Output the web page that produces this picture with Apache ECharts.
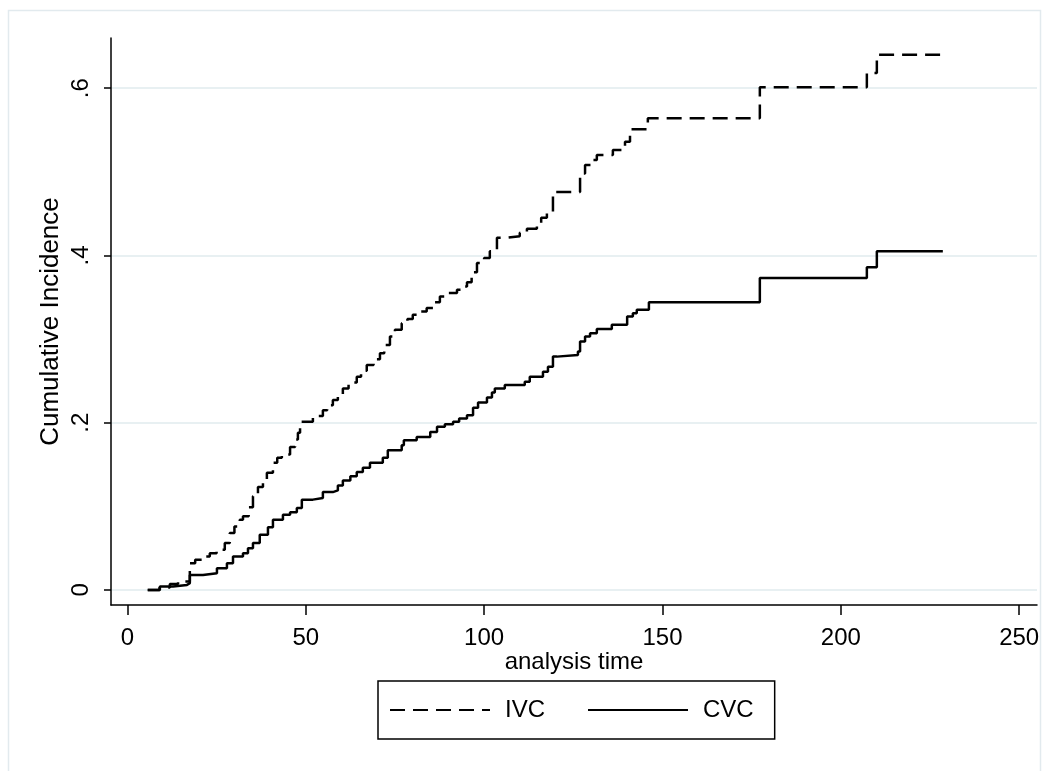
<!DOCTYPE html>
<html>
<head>
<meta charset="utf-8">
<script src="https://cdn.jsdelivr.net/npm/echarts@6/dist/echarts.min.js"></script>
<style>
    html, body { margin: 0; padding: 0; background: #fff; }
    #main { width: 1050px; height: 771px; }
</style>
</head>
<body>
<div id="main"></div>
<script>
// cumulative incidence
var ivcTime = [5.7, 9.0, 11.9, 14.2, 17.5, 19.0, 21.0, 23.1, 25.0, 27.3, 28.7, 30.0, 31.5, 32.4, 34.0, 35.2, 36.6, 38.0, 39.1, 40.8,
    42.0, 43.3, 45.6, 47.0, 47.8, 48.4, 52.0, 54.8, 56.0, 57.6, 59.0, 60.4, 62.0, 64.3, 65.5, 67.1, 69.0, 70.8, 72.0, 73.6,
    75.0, 76.9, 78.5, 80.0, 82.0, 83.9, 86.0, 87.6, 90.0, 92.4, 94.0, 95.2, 96.5, 98.0, 100.0, 101.6, 103.6, 106.0, 110.0, 112.0,
    114.8, 116.0, 117.6, 119.3, 126.9, 128.3, 130.0, 131.6, 136.1, 139.5, 140.9, 145.9, 177.3, 207.3, 210.1, 228.6];
var ivcInc = [0, .003, .007, .010, .032, .036, .040, .044, .048, .056, .068, .076, .084, .088, .099, .112, .123, .128, .140, .152,
    .158, .162, .171, .180, .188, .201, .208, .215, .221, .227, .234, .241, .248, .255, .262, .269, .276, .283, .293, .303,
    .311, .319, .324, .329, .333, .337, .344, .351, .355, .359, .363, .368, .380, .391, .397, .405, .421, .423, .427, .432,
    .438, .445, .452, .476, .498, .508, .514, .520, .526, .536, .551, .564, .601, .618, .640, .640];

var cvcTime = [5.7, 9.1, 12.8, 16.7, 17.5, 21.2, 25.1, 27.9, 29.6, 32.4, 33.8, 35.2, 37.1, 39.4, 40.8, 43.6, 45.6, 47.5, 48.9, 52.0,
    54.8, 57.6, 59.0, 60.4, 62.5, 64.3, 66.0, 68.0, 71.6, 73.0, 76.9, 77.5, 81.1, 84.9, 86.8, 89.0, 91.3, 93.0, 95.2, 96.9,
    98.3, 100.8, 102.2, 103.0, 105.8, 111.4, 112.8, 116.5, 117.9, 119.3, 120.4, 126.3, 126.9, 128.3, 129.7, 131.6, 135.8, 140.1, 141.7, 142.8,
    146.2, 177.3, 207.3, 210.1, 228.6];
var cvcInc = [0, .004, .006, .008, .018, .020, .026, .032, .040, .044, .050, .056, .066, .075, .084, .090, .093, .098, .108, .110,
    .117, .119, .125, .131, .136, .141, .146, .152, .158, .167, .173, .179, .183, .189, .195, .198, .201, .205, .209, .218,
    .224, .230, .236, .241, .245, .249, .255, .261, .267, .279, .281, .285, .297, .303, .307, .312, .317, .327, .331, .335,
    .344, .373, .386, .405, .405];

var xTicks = [0, 50, 100, 150, 200, 250];
var yTicks = [0, 0.2, 0.4, 0.6];

var FONT = 'Liberation Sans, Arial, sans-serif';

function pairs(xs, ys) {
    var out = [];
    for (var i = 0; i < xs.length; i++) {
        out.push([xs[i], ys[i]]);
    }
    return out;
}

var myChart = echarts.init(document.getElementById('main'), null, { renderer: 'canvas' });

var option = {
    animation: false,
    backgroundColor: '#fff',
    textStyle: { fontFamily: FONT, color: '#000' },
    graphic: [{
        type: 'rect',
        shape: { x: 8.5, y: 10.5, width: 1032, height: 800 },
        style: { fill: 'none', stroke: '#e2eaee', lineWidth: 1.5 },
        silent: true
    }],
    grid: {
        left: 111,
        right: 13,
        top: 38,
        bottom: 166
    },
    legend: {
        left: 378,
        top: 681,
        orient: 'horizontal',
        itemWidth: 100,
        itemHeight: 14,
        itemGap: 42,
        padding: [17, 21, 17, 11],
        borderColor: '#000',
        borderWidth: 1.5,
        backgroundColor: '#fff',
        // hide the marker dot, keep only the line sample
        itemStyle: { opacity: 0 },
        textStyle: { fontFamily: FONT, fontSize: 24, color: '#000', padding: [0, 0, 0, 10] },
        data: ['IVC', 'CVC']
    },
    xAxis: {
        type: 'value',
        min: -4.6,
        max: 255,
        name: 'analysis time',
        nameLocation: 'middle',
        nameGap: 45,
        nameMoveOverlap: false,
        nameTextStyle: { fontFamily: FONT, fontSize: 24, color: '#000' },
        axisLine: { show: true, onZero: false, lineStyle: { color: '#000', width: 1.5 } },
        axisTick: { show: true, length: 10, customValues: xTicks, lineStyle: { color: '#000', width: 1.5 } },
        axisLabel: { customValues: xTicks, margin: 21, fontSize: 24, color: '#000', fontFamily: FONT },
        splitLine: { show: false }
    },
    yAxis: {
        type: 'value',
        min: -0.018,
        max: 0.660,
        name: 'Cumulative Incidence',
        nameLocation: 'middle',
        nameRotate: 90,
        nameGap: 47,
        nameMoveOverlap: false,
        nameTextStyle: { fontFamily: FONT, fontSize: 26, color: '#000' },
        axisLine: { show: true, onZero: false, lineStyle: { color: '#000', width: 1.5 } },
        axisTick: { show: true, length: 7, customValues: yTicks, lineStyle: { color: '#000', width: 1.5 } },
        axisLabel: {
            customValues: yTicks,
            rotate: 90,
            margin: 18,
            fontSize: 24,
            color: '#000',
            fontFamily: FONT,
            formatter: function (v) {
                if (v === 0) return '0';
                return String(Math.round(v * 10) / 10).replace(/^0/, '');
            }
        },
        splitLine: { show: true, lineStyle: { color: '#e8f0f2', width: 2 } }
    },
    series: [
        {
            name: 'IVC',
            type: 'line',
            step: 'end',
            symbol: 'none',
            lineStyle: { color: '#000', width: 2.5, type: [15, 8] },
            itemStyle: { color: '#000' },
            data: pairs(ivcTime, ivcInc)
        },
        {
            name: 'CVC',
            type: 'line',
            step: 'end',
            symbol: 'none',
            lineStyle: { color: '#000', width: 2.5, type: 'solid' },
            itemStyle: { color: '#000' },
            data: pairs(cvcTime, cvcInc)
        }
    ]
};

myChart.setOption(option);
</script>
</body>
</html>
